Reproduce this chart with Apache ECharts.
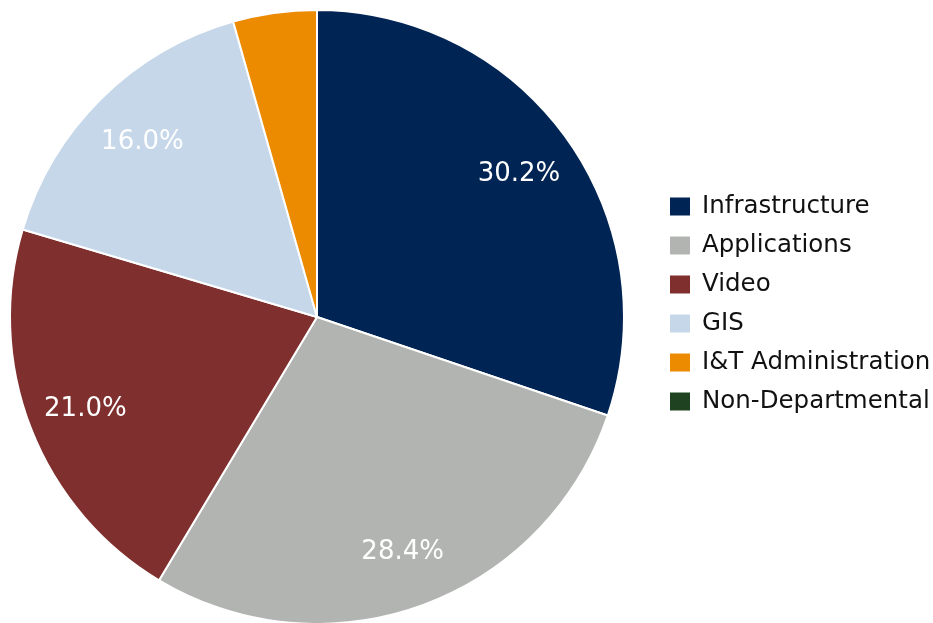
<!DOCTYPE html>
<html>
<head>
<meta charset="utf-8">
<script src="https://cdn.jsdelivr.net/npm/echarts@6/dist/echarts.min.js"></script>
<style>
html,body{margin:0;padding:0;background:#fff;}
#chart{width:933px;height:623px;}
</style>
</head>
<body>
<div id="chart"></div>
<script>
const categories = ['Infrastructure','Applications','Video','GIS','I&T Administration','Non-Departmental'];
const values = [30.2, 28.4, 21.0, 16.0, 4.4, 0.0];
const colors = ['#002454','#b2b4b2','#7f2f2e','#c6d7ea','#ec8b00','#1f4320'];

const data = categories.map((c, i) => ({ name: c, value: values[i], itemStyle: { color: colors[i] } }));
const labelData = categories.map((c, i) => ({ name: c, value: values[i], itemStyle: { color: 'rgba(0,0,0,0)' } }));

const chart = echarts.init(document.getElementById('chart'));
chart.setOption({
  animation: false,
  legend: {
    orient: 'vertical',
    left: 668,
    top: 194,
    padding: 0,
    itemWidth: 22,
    itemHeight: 20,
    itemGap: 14,
    icon: 'rect',
    data: categories,
    textStyle: { fontFamily: 'DejaVu Sans', fontSize: 24.5, color: '#111', padding: [0,0,0,6] }
  },
  series: [
    {
      type: 'pie',
      center: [317, 317],
      radius: 307,
      startAngle: 90,
      clockwise: true,
      label: { show: false },
      labelLine: { show: false },
      itemStyle: { borderColor: '#fff', borderWidth: 2 },
      data: data
    },
    {
      type: 'pie',
      center: [317, 317],
      radius: [184, 307],
      startAngle: 90,
      clockwise: true,
      silent: true,
      legendHoverLink: false,
      label: {
        show: true,
        position: 'inside',
        color: '#fff',
        fontFamily: 'DejaVu Sans',
        fontSize: 26,
        offset: [0, 2],
        formatter: p => p.value >= 10 ? p.value.toFixed(1) + '%' : ''
      },
      labelLine: { show: false },
      itemStyle: { borderWidth: 0 },
      data: labelData
    }
  ]
});
</script>
</body>
</html>
